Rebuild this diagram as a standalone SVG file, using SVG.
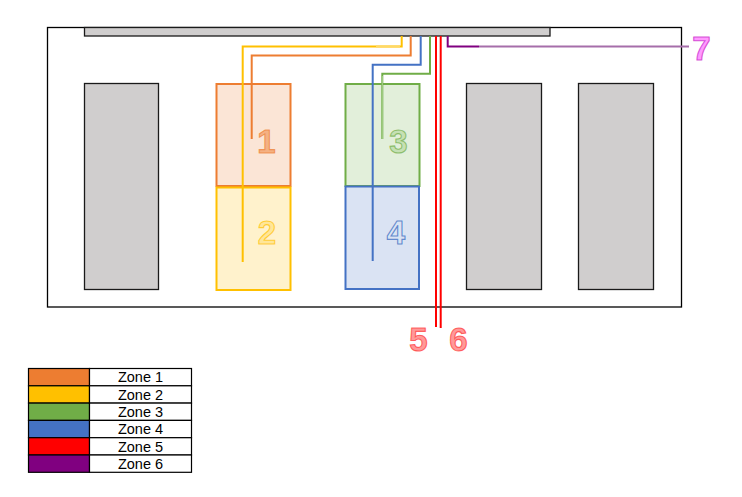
<svg xmlns="http://www.w3.org/2000/svg" width="742" height="497" viewBox="0 0 742 497">
<style>
.gray{fill:#d0cece;stroke:#1a1a1a;stroke-width:1.3}
.num{font-family:"Liberation Sans",Arial,sans-serif;font-weight:bold;font-size:33px;text-anchor:middle;stroke-width:1.1}
.w{fill:none;stroke-width:2}
.lg{font-family:"Liberation Sans",Arial,sans-serif;font-size:14.5px;text-anchor:middle;fill:#000}
.cell{stroke:#000;stroke-width:1.2}
</style>
<rect width="742" height="497" fill="#fff"/>
<g id="frame">
<rect x="47.5" y="27.5" width="634" height="279.5" fill="#fff" stroke="#000" stroke-width="1.3"/>
<rect class="gray" x="84.5" y="27.5" width="465.5" height="8.5"/>
</g>
<g id="bay-a"><rect class="gray" x="84.5" y="83.5" width="74" height="206"/></g>
<g id="bay-b"><rect class="gray" x="466.5" y="83.5" width="75" height="206"/></g>
<g id="bay-c"><rect class="gray" x="578.5" y="83.5" width="75" height="206"/></g>
<g id="zone1"><rect x="216.5" y="84" width="74" height="102" fill="#fbe5d6" stroke="#ed7d31" stroke-width="2"/></g>
<g id="zone2"><rect x="216.5" y="187.5" width="74" height="102.5" fill="#fff2cc" stroke="#ffc000" stroke-width="2"/></g>
<g id="zone3"><rect x="345.5" y="84" width="74" height="102" fill="#e2efda" stroke="#70ad47" stroke-width="2"/></g>
<g id="zone4"><rect x="345.5" y="186.5" width="73.5" height="102.5" fill="#dae3f3" stroke="#4472c4" stroke-width="2"/></g>
<g id="connectors">
<polyline class="w" stroke="#ffc000" points="242.7,262 242.7,46.5 401.7,46.5 401.7,36"/>
<line x1="376" y1="46.5" x2="400" y2="46.5" stroke="#ffd966" stroke-width="2"/>
<polyline class="w" stroke="#ed7d31" points="251.7,139 251.7,55.5 410.7,55.5 410.7,36"/>
<polyline class="w" stroke="#4472c4" points="372.7,261 372.7,64.7 420.7,64.7 420.7,36"/>
<polyline class="w" stroke="#70ad47" points="382.3,139 382.3,73.7 430,73.7 430,36"/>
<line x1="382.3" y1="76" x2="382.3" y2="139" stroke="#a9d18e" stroke-width="1"/>
<line x1="436" y1="36" x2="436" y2="327" stroke="#ff0000" stroke-width="2"/>
<line x1="440.7" y1="36" x2="440.7" y2="328" stroke="#ff0000" stroke-width="2"/>
<polyline class="w" stroke="#800080" points="447.7,36 447.7,46.5 479,46.5"/>
<line x1="479" y1="46.5" x2="689" y2="46.5" stroke="#a66eaa" stroke-width="2"/>
</g>
<g id="labels">
<text class="num" x="266.5" y="153" fill="#f4b183" stroke="#ed7d31" stroke-opacity="0.7">1</text>
<text class="num" x="267" y="244" fill="#ffe699" stroke="#ffc000" stroke-opacity="0.7">2</text>
<text class="num" x="398.5" y="153" fill="#c5e0b4" stroke="#70ad47" stroke-opacity="0.7">3</text>
<text class="num" x="396" y="244" fill="#dae3f3" stroke="#4472c4" stroke-opacity="0.8">4</text>
<text class="num" x="418.5" y="351" fill="#ff9999" stroke="#ff3333" stroke-opacity="0.7">5</text>
<text class="num" x="458.5" y="351" fill="#ff9999" stroke="#ff3333" stroke-opacity="0.7">6</text>
<text class="num" x="701.5" y="60" fill="#ff99ff" stroke="#cc33cc" stroke-opacity="0.8">7</text>
</g>
<g id="legend">
<rect class="cell" x="28.5" y="368.5" width="61" height="17.3" fill="#ed7d31"/>
<rect class="cell" x="28.5" y="385.8" width="61" height="17.3" fill="#ffc000"/>
<rect class="cell" x="28.5" y="403.1" width="61" height="17.3" fill="#70ad47"/>
<rect class="cell" x="28.5" y="420.4" width="61" height="17.3" fill="#4472c4"/>
<rect class="cell" x="28.5" y="437.7" width="61" height="17.3" fill="#ff0000"/>
<rect class="cell" x="28.5" y="455" width="61" height="17.3" fill="#800080"/>
<rect class="cell" x="89.5" y="368.5" width="102" height="17.3" fill="#fff"/>
<rect class="cell" x="89.5" y="385.8" width="102" height="17.3" fill="#fff"/>
<rect class="cell" x="89.5" y="403.1" width="102" height="17.3" fill="#fff"/>
<rect class="cell" x="89.5" y="420.4" width="102" height="17.3" fill="#fff"/>
<rect class="cell" x="89.5" y="437.7" width="102" height="17.3" fill="#fff"/>
<rect class="cell" x="89.5" y="455" width="102" height="17.3" fill="#fff"/>
<text class="lg" x="140.5" y="382.3">Zone 1</text>
<text class="lg" x="140.5" y="399.6">Zone 2</text>
<text class="lg" x="140.5" y="416.9">Zone 3</text>
<text class="lg" x="140.5" y="434.2">Zone 4</text>
<text class="lg" x="140.5" y="451.5">Zone 5</text>
<text class="lg" x="140.5" y="468.8">Zone 6</text>
</g>
</svg>
